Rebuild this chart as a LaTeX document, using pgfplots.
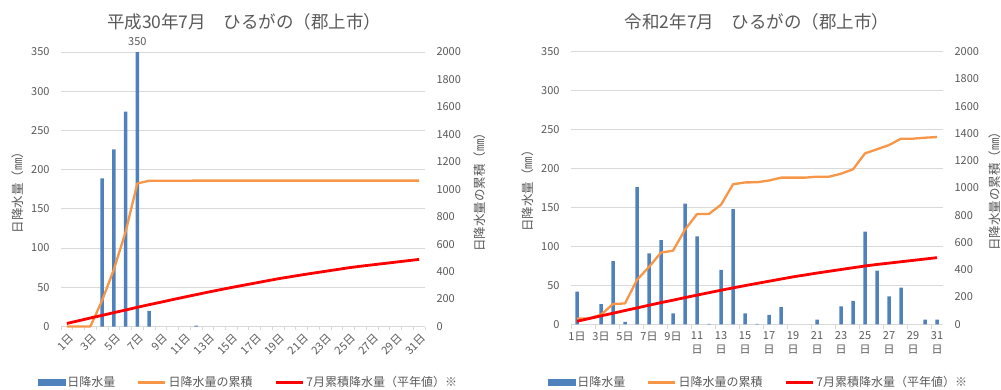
\documentclass[border=0pt]{standalone}
\usepackage{fontspec}
\setmainfont{Noto Sans CJK JP}
\usepackage{pgfplots}
\pgfplotsset{compat=1.18}
\definecolor{barblue}{HTML}{4F81BD}
\definecolor{lineorange}{HTML}{F79646}
\definecolor{linered}{HTML}{FF0000}
\definecolor{txtgrey}{HTML}{595959}
\definecolor{gridgrey}{HTML}{D9D9D9}

\pgfplotsset{
  basechart/.style={
    scale only axis, anchor=south west,
    xmin=0.5, xmax=31.5,
    /pgf/number format/assume math mode=true,
    /pgf/number format/1000 sep={},
    scaled y ticks=false,
    tick label style={font=\fontsize{11}{14}\selectfont, text=txtgrey},
    major tick length=0pt,
    clip=false,
  },
  primary/.style={basechart, ymin=0, ymax=350, ytick={0,50,...,350},
    axis x line*=bottom, axis y line*=left,
    y axis line style={draw=none},
    x axis line style={draw=gridgrey, line width=0.9pt},
    ymajorgrids, grid style={draw=gridgrey, line width=0.9pt},
    yticklabel style={xshift=-8pt},
    ylabel={日降水量（㎜）},
    ylabel style={font=\fontsize{12.5}{14}\selectfont, text=txtgrey, anchor=center},
    tick align=outside,
    minor tick style={draw=gridgrey, line width=0.8pt},
    title style={font=\fontsize{17.5}{19}\selectfont, text=txtgrey, anchor=center},
  },
  secondary/.style={basechart, ymin=0, ymax=2000, ytick={0,200,...,2000},
    axis y line*=right, axis x line=none,
    y axis line style={draw=none},
    xtick=\empty,
    yticklabel style={xshift=8pt},
    ylabel={日降水量の累積（㎜）},
    ylabel style={font=\fontsize{12.5}{14}\selectfont, text=txtgrey, anchor=center},
    legend columns=3,
    legend cell align=left,
    legend image code/.code={\draw[##1] (0pt,0pt) -- (27pt,0pt);},
  },
  barlegend/.style={legend image code/.code={\fill[barblue] (0pt,-3pt) rectangle (27pt,3pt);}},
}

\begin{document}
\begin{tikzpicture}
\path[use as bounding box] (0pt,0pt) rectangle (1001pt,389pt);

% ---------------- Left chart ----------------
\begin{axis}[primary,
  at={(61pt,62.5pt)}, width=364pt, height=274.5pt,
  title={平成30年7月　ひるがの（郡上市）},
  title style={at={(axis description cs:0.503,1.088)}},
  ylabel style={at={(axis description cs:-0.118,0.5)}},
  xtick={1,3,...,31},
  xticklabels={1日,3日,5日,7日,9日,11日,13日,15日,17日,19日,21日,23日,25日,27日,29日,31日},
  xticklabel style={rotate=45, anchor=north east, yshift=-2pt},
  minor xtick={0.5,1.5,...,31.5},
  minor tick length=3.5pt,
]
\addplot[ybar, bar width=3.5pt, bar shift=0pt, fill=barblue, draw=none]
  coordinates {(4,189) (5,226) (6,274) (7,350) (8,20) (12,1)};
\addplot[draw=none, no marks, nodes near coords,
  nodes near coords style={font=\fontsize{11}{14}\selectfont, text=txtgrey, anchor=south, yshift=3pt}]
  coordinates {(7,350)};
\end{axis}
\begin{axis}[secondary,
  at={(61pt,62.5pt)}, width=364pt, height=274.5pt,
  ylabel style={at={(axis description cs:1.151,0.5)}},
  legend style={at={(axis description cs:0.515,-0.204)}, anchor=center, draw=none, fill=none,
    font=\color{txtgrey}\fontsize{12}{14}\selectfont,
    /tikz/every even column/.append style={column sep=20pt}},
]
\addlegendimage{barlegend}
\addlegendentry{日降水量}
\addplot[lineorange, line width=2.3pt, no marks, line join=round] coordinates {
(1,0) (2,0) (3,0) (4,189) (5,415) (6,689) (7,1042) (8,1062) (9,1062) (10,1062)
(11,1062) (12,1063) (13,1063) (14,1063) (15,1063) (16,1063) (17,1063) (18,1063) (19,1063) (20,1063)
(21,1063) (22,1063) (23,1063) (24,1063) (25,1063) (26,1063) (27,1063) (28,1063) (29,1063) (30,1063) (31,1063)};
\addlegendentry{日降水量の累積}
\addplot[linered, line width=2.8pt, no marks, line join=round] coordinates {
(1,22) (2,42) (3,62) (4,81) (5,101) (6,120) (7,140) (8,159) (9,177) (10,196)
(11,214) (12,232) (13,250) (14,267) (15,284) (16,300) (17,316) (18,332) (19,348) (20,362)
(21,376) (22,389) (23,402) (24,415) (25,428) (26,439) (27,449) (28,459) (29,469) (30,479) (31,489)};
\addlegendentry{7月累積降水量（平年値）※}
\end{axis}

% ---------------- Right chart ----------------
\begin{axis}[primary,
  at={(571pt,64.7pt)}, width=372pt, height=272.6pt,
  title={令和2年7月　ひるがの（郡上市）},
  title style={at={(axis description cs:0.5,1.088)}},
  ylabel style={at={(axis description cs:-0.116,0.5)}},
  xtick={1,3,...,31},
  xticklabels={1日,3日,5日,7日,9日,{11\\日},{13\\日},{15\\日},{17\\日},{19\\日},{21\\日},{23\\日},{25\\日},{27\\日},{29\\日},{31\\日}},
  xticklabel style={align=center, anchor=north, yshift=-4pt},
  minor xtick={0.5,2.5,...,30.5},
  minor tick length=5pt,
]
\addplot[ybar, bar width=3.5pt, bar shift=0pt, fill=barblue, draw=none]
  coordinates {(1,42) (3,26) (4,81) (5,3) (6,176) (7,91) (8,108) (9,14) (10,155)
  (11,113) (12,0.5) (13,70) (14,148) (15,14) (16,0.5) (17,12) (18,22) (21,6)
  (23,23) (24,30) (25,119) (26,69) (27,36) (28,47) (30,6) (31,6)};
\end{axis}
\begin{axis}[secondary,
  at={(571pt,64.7pt)}, width=372pt, height=272.6pt,
  ylabel style={at={(axis description cs:1.14,0.5)}},
  legend style={at={(axis description cs:0.504,-0.2135)}, anchor=center, draw=none, fill=none,
    font=\color{txtgrey}\fontsize{12}{14}\selectfont,
    /tikz/every even column/.append style={column sep=20pt}},
]
\addlegendimage{barlegend}
\addlegendentry{日降水量}
\addplot[lineorange, line width=2.3pt, no marks, line join=round] coordinates {
(1,43) (2,43) (3,70) (4,149) (5,153) (6,326) (7,421) (8,526) (9,540) (10,694)
(11,809) (12,810) (13,877) (14,1027) (15,1041) (16,1042) (17,1055) (18,1076) (19,1076) (20,1076)
(21,1083) (22,1083) (23,1105) (24,1137) (25,1254) (26,1284) (27,1315) (28,1362) (29,1362) (30,1369) (31,1374)};
\addlegendentry{日降水量の累積}
\addplot[linered, line width=2.8pt, no marks, line join=round] coordinates {
(1,22) (2,42) (3,62) (4,81) (5,101) (6,120) (7,140) (8,159) (9,177) (10,196)
(11,214) (12,232) (13,250) (14,267) (15,284) (16,300) (17,316) (18,332) (19,348) (20,362)
(21,376) (22,389) (23,402) (24,415) (25,428) (26,439) (27,449) (28,459) (29,469) (30,479) (31,489)};
\addlegendentry{7月累積降水量（平年値）※}
\end{axis}
\end{tikzpicture}
\end{document}
